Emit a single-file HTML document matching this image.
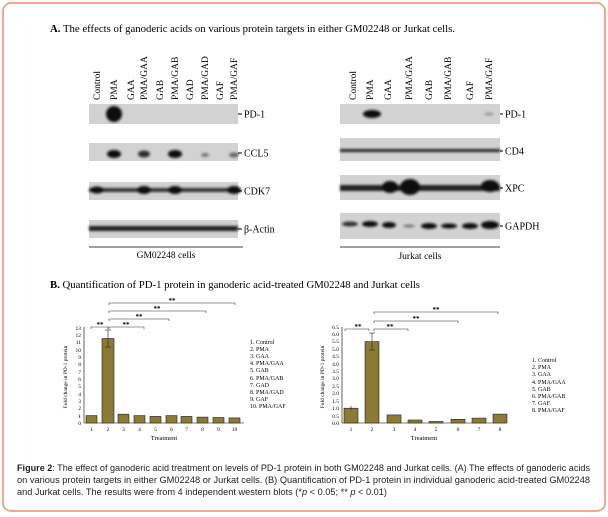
<!DOCTYPE html>
<html><head><meta charset="utf-8"><style>
body{margin:0;background:#fff;width:608px;height:517px;overflow:hidden}
svg{display:block}
</style></head><body>
<svg width="608" height="517" viewBox="0 0 608 517" xmlns="http://www.w3.org/2000/svg" font-family="Liberation Serif, serif">
<defs><filter id="b" x="-50%" y="-100%" width="200%" height="300%"><feGaussianBlur stdDeviation="1.3"/></filter></defs>
<rect x="3" y="3" width="602" height="508" rx="8" fill="#fff" stroke="#f08c6a" stroke-width="1.5"/>
<text x="50" y="32" font-size="10.5" textLength="405" lengthAdjust="spacingAndGlyphs"><tspan font-weight="bold">A.</tspan> The effects of ganoderic acids on various protein targets in either GM02248 or Jurkat cells.</text>
<g font-size="9.5">
<text transform="translate(100,100) rotate(-90)">Control</text>
<text transform="translate(117,100) rotate(-90)">PMA</text>
<text transform="translate(134,100) rotate(-90)">GAA</text>
<text transform="translate(147,100) rotate(-90)">PMA/GAA</text>
<text transform="translate(163,100) rotate(-90)">GAB</text>
<text transform="translate(178,100) rotate(-90)">PMA/GAB</text>
<text transform="translate(193,100) rotate(-90)">GAD</text>
<text transform="translate(208,100) rotate(-90)">PMA/GAD</text>
<text transform="translate(223,100) rotate(-90)">GAF</text>
<text transform="translate(237,100) rotate(-90)">PMA/GAF</text>
<text transform="translate(356,100) rotate(-90)">Control</text>
<text transform="translate(373,100) rotate(-90)">PMA</text>
<text transform="translate(391,100) rotate(-90)">GAA</text>
<text transform="translate(412,100) rotate(-90)">PMA/GAA</text>
<text transform="translate(432,100) rotate(-90)">GAB</text>
<text transform="translate(451,100) rotate(-90)">PMA/GAB</text>
<text transform="translate(473,100) rotate(-90)">GAF</text>
<text transform="translate(492,100) rotate(-90)">PMA/GAF</text>
</g>
<g fill="#d2d2d2">
<rect x="89" y="104" width="149" height="20"/>
<rect x="89" y="143" width="149" height="18"/>
<rect x="89" y="182" width="149" height="18"/>
<rect x="89" y="220" width="149" height="18"/>
<rect x="340" y="104" width="160" height="20"/>
<rect x="340" y="138" width="160" height="23"/>
<rect x="340" y="175" width="160" height="25"/>
<rect x="340" y="213" width="160" height="26"/>
</g>
<g filter="url(#b)" fill="#111">
<ellipse cx="114" cy="114" rx="8" ry="8"/>
<ellipse cx="114" cy="154" rx="7" ry="4"/><ellipse cx="144" cy="154" rx="6" ry="3.5" fill="#333"/><ellipse cx="175" cy="154" rx="7" ry="4"/><ellipse cx="205" cy="155" rx="4" ry="2" fill="#777"/><ellipse cx="234" cy="155" rx="5" ry="2.5" fill="#666"/>
<rect x="89" y="188" width="149" height="4" fill="#333"/><ellipse cx="144" cy="190" rx="7" ry="4"/><ellipse cx="175" cy="190" rx="7" ry="4"/><ellipse cx="234" cy="190" rx="7" ry="4"/><ellipse cx="97" cy="190" rx="7" ry="3.5"/>
<rect x="89" y="226" width="149" height="5" fill="#222"/>
<ellipse cx="372" cy="114" rx="9" ry="4"/><ellipse cx="489" cy="114" rx="5" ry="1.5" fill="#999"/>
<rect x="340" y="149" width="160" height="3" fill="#222"/>
<rect x="340" y="185" width="160" height="6" fill="#222"/><ellipse cx="390" cy="187" rx="8" ry="6"/><ellipse cx="410" cy="187" rx="10" ry="8"/><ellipse cx="490" cy="186" rx="9" ry="6"/>
<ellipse cx="350" cy="224" rx="8" ry="2.5" fill="#333"/><ellipse cx="370" cy="224" rx="8" ry="3"/><ellipse cx="389" cy="225" rx="7" ry="3"/><ellipse cx="409" cy="226" rx="6" ry="1.5" fill="#777"/><ellipse cx="429" cy="226" rx="8" ry="3"/><ellipse cx="449" cy="226" rx="8" ry="2.5"/><ellipse cx="470" cy="226" rx="8" ry="3"/><ellipse cx="490" cy="225" rx="9" ry="4"/>
</g>
<g font-size="10">
<line x1="238" y1="114" x2="242" y2="114" stroke="#000"/><text x="244" y="117.5">PD-1</text>
<line x1="238" y1="153" x2="242" y2="153" stroke="#000"/><text x="244" y="156.5">CCL5</text>
<line x1="238" y1="191" x2="242" y2="191" stroke="#000"/><text x="244" y="194.5">CDK7</text>
<line x1="238" y1="229" x2="242" y2="229" stroke="#000"/><text x="244" y="232.5">β-Actin</text>
<line x1="500" y1="114" x2="503" y2="114" stroke="#000"/><text x="505" y="117.5">PD-1</text>
<line x1="500" y1="151" x2="503" y2="151" stroke="#000"/><text x="505" y="154.5">CD4</text>
<line x1="500" y1="188" x2="503" y2="188" stroke="#000"/><text x="505" y="191.5">XPC</text>
<line x1="500" y1="226" x2="503" y2="226" stroke="#000"/><text x="505" y="229.5">GAPDH</text>
</g>
<line x1="89" y1="247" x2="243" y2="247" stroke="#000" stroke-width="0.7"/>
<text x="166" y="258" font-size="9.5" text-anchor="middle">GM02248 cells</text>
<line x1="340" y1="247" x2="500" y2="247" stroke="#000" stroke-width="0.7"/>
<text x="420" y="259" font-size="9.5" text-anchor="middle">Jurkat cells</text>

<text x="50" y="288" font-size="10.5" textLength="370" lengthAdjust="spacingAndGlyphs"><tspan font-weight="bold">B.</tspan> Quantification of PD-1 protein in ganoderic acid-treated GM02248 and Jurkat cells</text>

<g stroke="#000" stroke-width="0.6" fill="none">
<line x1="84" y1="327" x2="84" y2="423"/><line x1="84" y1="423" x2="244" y2="423"/>
</g>
<g font-size="5.5" text-anchor="end">
<text x="81" y="425">0</text><text x="81" y="418">1</text><text x="81" y="410">2</text><text x="81" y="403">3</text><text x="81" y="396">4</text><text x="81" y="388">5</text><text x="81" y="381">6</text><text x="81" y="374">7</text><text x="81" y="366">8</text><text x="81" y="359">9</text><text x="81" y="352">10</text><text x="81" y="344">11</text><text x="81" y="337">12</text><text x="81" y="330">13</text>
</g>
<g fill="#8b7a35" stroke="#222" stroke-width="0.6">
<rect x="86" y="415.6" width="11" height="7.4"/><rect x="102" y="338.5" width="12" height="84.5"/><rect x="118" y="414.2" width="11" height="8.8"/><rect x="134" y="415.6" width="11" height="7.4"/><rect x="150" y="416.4" width="11" height="6.6"/><rect x="166" y="415.6" width="11" height="7.4"/><rect x="181" y="416.4" width="11" height="6.6"/><rect x="197" y="417.1" width="11" height="5.9"/><rect x="213" y="417.5" width="11" height="5.5"/><rect x="229" y="417.9" width="11" height="5.1"/>
</g>
<g stroke="#222" stroke-width="0.6">
<line x1="108" y1="330" x2="108" y2="347"/><line x1="105" y1="330" x2="111" y2="330"/><line x1="105" y1="347" x2="111" y2="347"/>
</g>
<g font-size="5.5" text-anchor="middle">
<text x="91.5" y="431">1</text><text x="108" y="431">2</text><text x="123.5" y="431">3</text><text x="139.5" y="431">4</text><text x="155.5" y="431">5</text><text x="171.5" y="431">6</text><text x="186.5" y="431">7</text><text x="202.5" y="431">8</text><text x="218.5" y="431">9</text><text x="234.5" y="431">10</text>
</g>
<text x="164" y="440" font-size="6.5" text-anchor="middle">Treatment</text>
<text transform="translate(67,377) rotate(-90)" font-size="5.5" text-anchor="middle">Fold change in PD-1 protein</text>
<g stroke="#333" stroke-width="0.6" fill="none">
<path d="M91 329V327H108V329"/><path d="M109 329V327H144V329"/><path d="M109 321V319H169V321"/><path d="M109 313V311H206V313"/><path d="M109 305V303H235V305"/>
</g>
<g font-size="7" font-weight="bold" text-anchor="middle">
<text x="100" y="327">**</text><text x="126" y="327">**</text><text x="139" y="319">**</text><text x="157" y="311">**</text><text x="172" y="303">**</text>
</g>
<g font-size="6"><text x="250" y="344">1. Control</text><text x="250" y="351">2. PMA</text><text x="250" y="358">3. GAA</text><text x="250" y="365">4. PMA/GAA</text><text x="250" y="372">5. GAB</text><text x="250" y="380">6. PMA/GAB</text><text x="250" y="387">7. GAD</text><text x="250" y="394">8. PMA/GAD</text><text x="250" y="401">9. GAF</text><text x="250" y="408">10. PMA/GAF</text></g>

<g stroke="#000" stroke-width="0.6" fill="none">
<line x1="342" y1="327" x2="342" y2="423"/><line x1="342" y1="423" x2="506" y2="423"/>
</g>
<g font-size="5.5" text-anchor="end">
<text x="339" y="425">0.0</text><text x="339" y="418">0.5</text><text x="339" y="410">1.0</text><text x="339" y="403">1.5</text><text x="339" y="395">2.0</text><text x="339" y="388">2.5</text><text x="339" y="380">3.0</text><text x="339" y="373">3.5</text><text x="339" y="366">4.0</text><text x="339" y="358">4.5</text><text x="339" y="351">5.0</text><text x="339" y="343">5.5</text><text x="339" y="336">6.0</text><text x="339" y="329">6.5</text>
</g>
<g fill="#8b7a35" stroke="#222" stroke-width="0.6">
<rect x="344" y="408.2" width="14" height="14.8"/><rect x="365" y="341.6" width="14" height="81.4"/><rect x="387" y="414.9" width="14" height="8.1"/><rect x="408" y="420" width="14" height="3"/><rect x="429" y="421.5" width="14" height="1.5"/><rect x="451" y="419.3" width="14" height="3.7"/><rect x="472" y="418.1" width="14" height="4.9"/><rect x="493" y="414.1" width="14" height="8.9"/>
</g>
<g stroke="#222" stroke-width="0.6">
<line x1="372" y1="333" x2="372" y2="350"/><line x1="369" y1="333" x2="375" y2="333"/><line x1="369" y1="350" x2="375" y2="350"/>
<line x1="351" y1="406" x2="351" y2="410"/>
</g>
<g font-size="5.5" text-anchor="middle">
<text x="351" y="431">1</text><text x="372" y="431">2</text><text x="394" y="431">3</text><text x="415" y="431">4</text><text x="436" y="431">5</text><text x="458" y="431">6</text><text x="479" y="431">7</text><text x="500" y="431">8</text>
</g>
<text x="424" y="440" font-size="6.5" text-anchor="middle">Treatment</text>
<text transform="translate(324,377) rotate(-90)" font-size="5.5" text-anchor="middle">Fold change in PD-1 protein</text>
<g stroke="#333" stroke-width="0.6" fill="none">
<path d="M345 331V329H369V331"/><path d="M374 331V329H408V331"/><path d="M374 323V321H458V323"/><path d="M374 314V312H498V314"/>
</g>
<g font-size="7" font-weight="bold" text-anchor="middle">
<text x="358" y="329">**</text><text x="390" y="329">**</text><text x="416" y="321">**</text><text x="436" y="312">**</text>
</g>
<g font-size="6"><text x="532" y="362">1. Control</text><text x="532" y="369">2. PMA</text><text x="532" y="376">3. GAA</text><text x="532" y="384">4. PMA/GAA</text><text x="532" y="391">5. GAB</text><text x="532" y="398">6. PMA/GAB</text><text x="532" y="405">7. GAF</text><text x="532" y="412">8. PMA/GAF</text></g>

<g font-family="Liberation Sans, sans-serif" font-size="8.8" fill="#222">
<text x="17" y="471" textLength="573" lengthAdjust="spacingAndGlyphs"><tspan font-weight="bold">Figure 2</tspan>: The effect of ganoderic acid treatment on levels of PD-1 protein in both GM02248 and Jurkat cells. (A) The effects of ganoderic acids</text>
<text x="17" y="483" textLength="573" lengthAdjust="spacingAndGlyphs">on various protein targets in either GM02248 or Jurkat cells. (B) Quantification of PD-1 protein in individual ganoderic acid-treated GM02248</text>
<text x="17" y="495" textLength="370" lengthAdjust="spacingAndGlyphs">and Jurkat cells. The results were from 4 independent western blots (*<tspan font-style="italic">p</tspan> &lt; 0.05; ** <tspan font-style="italic">p</tspan> &lt; 0.01)</text>
</g>
</svg>
</body></html>
